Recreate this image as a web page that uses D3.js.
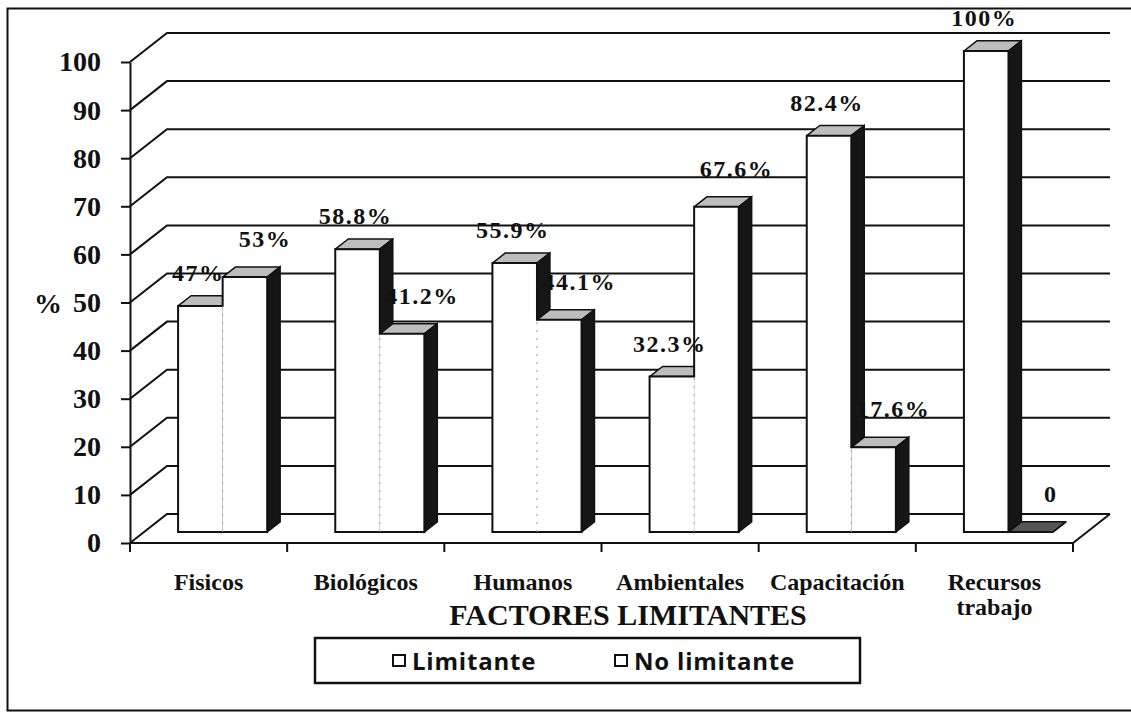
<!DOCTYPE html>
<html>
<head>
<meta charset="utf-8">
<script src="https://cdn.jsdelivr.net/npm/d3@7/dist/d3.min.js"></script>
<style>
  body { margin: 0; background: #fff; }
  svg { display: block; }
</style>
</head>
<body>
<div id="chart"></div>
<script>
(function (d3) {
  'use strict';

  // Chart data
  var categories = ['Fisicos', 'Biológicos', 'Humanos', 'Ambientales', 'Capacitación', 'Recursos\ntrabajo'];
  var series = ['Limitante', 'No limitante'];
  var limitante = [47, 58.8, 55.9, 32.3, 82.4, 100];
  var noLimitante = [53, 41.2, 44.1, 67.6, 17.6, 0];
  var limitanteLabels = ['47%', '58.8%', '55.9%', '32.3%', '82.4%', '100%'];
  var noLimitanteLabels = ['53%', '41.2%', '44.1%', '67.6%', '17.6%', '0'];
  var yTicks = [0, 10, 20, 30, 40, 50, 60, 70, 80, 90, 100];

  var width = 1131,
      height = 713,
      axisLeft = 130,
      axisRight = 1073,
      axisBottom = 543,
      axisTop = 62,
      depthX = 37,      // offset of the back wall
      depthY = -29,
      barFront = 0.38,  // bar front / back as a fraction of the floor depth
      barBack = 0.73,
      serif = '"Liberation Serif", "Times New Roman", serif',
      ink = '#111';

  // label placement per series, relative to the bar top
  var labelShift = {
    'Limitante': {dx: -2, dy: -25},
    'No limitante': {dx: 20, dy: -30}
  };

  var svg = d3.select('#chart').append('svg')
      .attr('width', width)
      .attr('height', height);

  // Outer frame
  svg.append('rect')
      .attr('x', 7.5).attr('y', 8.5)
      .attr('width', width + 10).attr('height', 702)
      .attr('fill', 'none')
      .attr('stroke', ink)
      .attr('stroke-width', 2);

  var y = d3.scaleLinear().domain([0, 100]).range([axisBottom, axisTop]);
  var x0 = d3.scaleBand().domain(categories).range([axisLeft, axisRight])
      .paddingInner(0.433).paddingOuter(0.2165);
  var x1 = d3.scaleBand().domain(series).range([0, x0.bandwidth()]);

  var rows = categories.map(function(c, i) {
    return {cat: c, values: [
      {key: series[0], value: limitante[i], label: limitanteLabels[i]},
      {key: series[1], value: noLimitante[i], label: noLimitanteLabels[i]}
    ]};
  });

  var grid = svg.append('g')
      .attr('stroke', ink)
      .attr('stroke-width', 2)
      .attr('fill', 'none');

  // Back wall gridlines + left wall diagonals
  grid.selectAll('.back')
    .data(yTicks)
    .enter().append('path')
      .attr('class', 'back')
      .attr('d', function(v) {
        return 'M' + axisLeft + ',' + y(v) +
               'L' + (axisLeft + depthX) + ',' + (y(v) + depthY) +
               'H' + (axisRight + depthX);
      });

  // Floor right edge
  grid.append('path')
      .attr('d', 'M' + axisRight + ',' + axisBottom + 'l' + depthX + ',' + depthY);

  // Bars
  var fdx = depthX * barFront, fdy = depthY * barFront,
      bdx = depthX * barBack, bdy = depthY * barBack,
      bw = x1.bandwidth(),
      sdx = bdx - fdx, sdy = bdy - fdy;

  var groups = svg.selectAll('.group')
    .data(rows)
    .enter().append('g')
      .attr('class', 'group')
      .attr('transform', function(d) {
        return 'translate(' + (x0(d.cat) + fdx) + ',' + fdy + ')';
      });

  groups.each(function(d) {
    var g = d3.select(this),
        base = y(0);

    d.values.forEach(function(s) {
      var xl = x1(s.key), top = y(s.value);
      // top face
      g.append('path')
          .attr('d', 'M' + xl + ',' + top + 'l' + sdx + ',' + sdy + 'h' + bw +
                     'l' + (-sdx) + ',' + (-sdy) + 'Z')
          .attr('fill', s.value > 0 ? '#bdbdbd' : '#555')
          .attr('stroke', ink)
          .attr('stroke-width', 1.5)
          .attr('stroke-linejoin', 'round');
      // side face
      g.append('path')
          .attr('d', 'M' + (xl + bw) + ',' + top + 'l' + sdx + ',' + sdy +
                     'V' + (base + sdy) + 'L' + (xl + bw) + ',' + base + 'Z')
          .attr('fill', '#161616')
          .attr('stroke', ink)
          .attr('stroke-width', 1.5);
      // front face
      g.append('rect')
          .attr('x', xl).attr('y', top)
          .attr('width', bw).attr('height', base - top)
          .attr('fill', '#fff');
    });

    // outline of both front faces
    var a = d.values[0], b = d.values[1],
        xa = x1(a.key), xm = x1(b.key), xr = xm + bw;
    g.append('path')
        .attr('d', 'M' + xa + ',' + base + 'V' + y(a.value) + 'H' + xm +
                   'V' + y(b.value) + 'H' + xr + 'V' + base + 'Z')
        .attr('fill', 'none')
        .attr('stroke', ink)
        .attr('stroke-width', 2);
    g.append('line')
        .attr('x1', xm).attr('x2', xm)
        .attr('y1', base).attr('y2', Math.max(y(a.value), y(b.value)))
        .attr('stroke', '#999')
        .attr('stroke-dasharray', '2,6');
  });

  // value labels (on top of every bar)
  groups.selectAll('.val')
    .data(function(d) { return d.values; })
    .enter().append('text')
      .attr('class', 'val')
      .attr('x', function(s) { return x1(s.key) + bw / 2 + labelShift[s.key].dx; })
      .attr('y', function(s) { return y(s.value) + labelShift[s.key].dy; })
      .attr('text-anchor', 'middle')
      .attr('font-family', serif)
      .attr('font-weight', 'bold')
      .attr('font-size', 24)
      .attr('letter-spacing', 1.5)
      .attr('fill', ink)
      .text(function(s) { return s.label; });
  groups.raise();
  svg.selectAll('.val').raise();

  // Front axes
  var yAxis = d3.axisLeft(y).tickValues(yTicks).tickSize(9).tickSizeOuter(0).tickPadding(20);
  var ya = svg.append('g')
      .attr('transform', 'translate(' + axisLeft + ',0)')
      .call(yAxis);
  ya.selectAll('path, line').attr('stroke', ink).attr('stroke-width', 2);
  ya.selectAll('text')
      .attr('font-family', serif)
      .attr('font-weight', 'bold')
      .attr('font-size', 28)
      .attr('fill', ink);

  svg.append('line')
      .attr('x1', axisLeft).attr('x2', axisRight)
      .attr('y1', axisBottom).attr('y2', axisBottom)
      .attr('stroke', ink).attr('stroke-width', 2);

  svg.selectAll('.xtick')
    .data(d3.range(categories.length + 1))
    .enter().append('line')
      .attr('class', 'xtick')
      .attr('x1', function(i) { return axisLeft + i * x0.step(); })
      .attr('x2', function(i) { return axisLeft + i * x0.step(); })
      .attr('y1', axisBottom).attr('y2', axisBottom + 9)
      .attr('stroke', ink).attr('stroke-width', 2);

  // Category labels
  svg.selectAll('.xlabel')
    .data(categories)
    .enter().append('text')
      .attr('class', 'xlabel')
      .attr('x', function(c) { return x0(c) + x0.bandwidth() / 2; })
      .attr('y', 590)
      .attr('text-anchor', 'middle')
      .attr('font-family', serif)
      .attr('font-weight', 'bold')
      .attr('font-size', 24)
      .attr('fill', ink)
      .each(function(c) {
        var t = d3.select(this);
        c.split('\n').forEach(function(line, i) {
          t.append('tspan')
              .attr('x', t.attr('x'))
              .attr('dy', i ? 25 : 0)
              .text(line);
        });
      });

  // Axis titles
  svg.append('text')
      .attr('x', 628).attr('y', 625)
      .attr('text-anchor', 'middle')
      .attr('font-family', serif)
      .attr('font-weight', 'bold')
      .attr('font-size', 30)
      .attr('fill', ink)
      .text('FACTORES LIMITANTES');

  svg.append('text')
      .attr('x', 48).attr('y', y(50) + 10)
      .attr('text-anchor', 'middle')
      .attr('font-family', serif)
      .attr('font-weight', 'bold')
      .attr('font-size', 28)
      .attr('fill', ink)
      .text('%');

  // Legend
  var legend = svg.append('g');
  legend.append('rect')
      .attr('x', 315).attr('y', 638)
      .attr('width', 545).attr('height', 45)
      .attr('fill', 'none')
      .attr('stroke', ink)
      .attr('stroke-width', 2.5);

  var items = legend.selectAll('.item')
    .data(series)
    .enter().append('g')
      .attr('class', 'item')
      .attr('transform', function(s, i) { return 'translate(' + (393 + i * 222) + ',655)'; });
  items.append('rect')
      .attr('width', 12).attr('height', 11)
      .attr('fill', '#fff')
      .attr('stroke', ink)
      .attr('stroke-width', 2);
  items.append('text')
      .attr('x', 19).attr('y', 15)
      .attr('font-family', '"Open Sans", sans-serif')
      .attr('font-weight', 'bold')
      .attr('font-size', 24)
      .attr('letter-spacing', 0.8)
      .attr('fill', ink)
      .text(function(s) { return s; });

}(d3));
</script>
</body>
</html>
